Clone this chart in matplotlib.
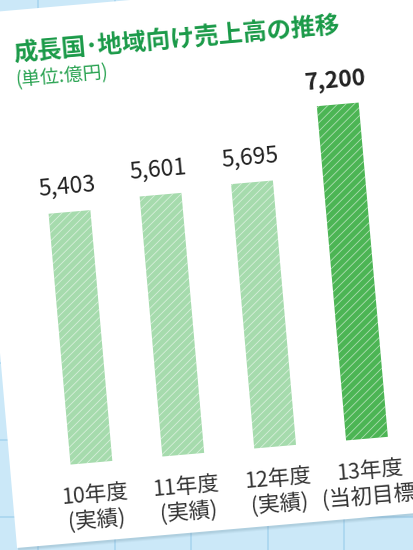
import numpy as np
import matplotlib
matplotlib.use("Agg")
import matplotlib.pyplot as plt
import matplotlib.transforms as mtransforms
from matplotlib.patches import Rectangle

plt.rcParams['font.family'] = ['Noto Sans CJK JP', 'DejaVu Sans']
plt.rcParams['hatch.color'] = (1, 1, 1, 0.55)
plt.rcParams['hatch.linewidth'] = 0.6

# sales to growth markets (100M yen)
years = ["10年度", "11年度", "12年度", "13年度"]
notes = ["(実績)", "(実績)", "(実績)", "(当初目標)"]
sales = [5403, 5601, 5695, 7200]
is_target = [False, False, False, True]

W, H = 413, 550
fig = plt.figure(figsize=(W/100, H/100), dpi=100)

# the whole card is tilted a few degrees about the page centre
rot = mtransforms.Affine2D().rotate_deg_around(206.5, 275, 5)

# blue grid paper behind the card
bg = fig.add_axes([0, 0, 1, 1])
bg.set_xlim(0, W); bg.set_ylim(0, H); bg.axis("off")
bg.add_patch(Rectangle((0, 0), W, H, color="#cbe8f8", zorder=0))
for gx in np.arange(38, W, 76.5):
    bg.axvline(gx, color="#a9d5ef", lw=1.2, zorder=1)
for gy in np.arange(33, H, 77):
    bg.axhline(gy, color="#a9d5ef", lw=1.2, zorder=1)

# card with a soft shadow
card_h = 536
for k, a in enumerate([0.08, 0.10, 0.14]):
    sh = Rectangle((-6 + 1, 19.6 - 4 + k), 520, card_h, transform=mtransforms.Affine2D() + rot,
                   color="#6f93a8", alpha=a, lw=0, zorder=2)
    fig.add_artist(sh)
card = Rectangle((-6, 19.6), 520, card_h, transform=mtransforms.Affine2D() + rot,
                 color="white", lw=0, zorder=3)
fig.add_artist(card)

fig.text(33.2, 512, "成長国･地域向け売上高の推移", transform=mtransforms.Affine2D() + rot,
         rotation=5, rotation_mode="anchor", ha="left", va="center",
         fontsize=17.5, fontweight="bold", color="#1a9a48", zorder=5)
fig.text(32.7, 485, "(単位:億円)", transform=mtransforms.Affine2D() + rot,
         rotation=5, rotation_mode="anchor", ha="left", va="center",
         fontsize=13.5, color="#2aa352", zorder=5)

ax = fig.add_axes([29.4/W, 98/H, 368.8/W, 372.8/H])
ax.set_xlim(-0.5, 3.5); ax.set_ylim(0, 8000); ax.axis("off")
ax.set_zorder(4); ax.patch.set_visible(False)

x = np.arange(len(sales))
colors = ["#4cb554" if t else "#a6dbad" for t in is_target]
bars = ax.bar(x, sales, width=0.455, color=colors, hatch="////")
for b in bars:
    b.set_transform(ax.transData + rot)
    b.set_clip_on(False)

lab_tr = mtransforms.offset_copy(ax.transData, fig=fig, y=25, units="dots") + rot
cat_tr = mtransforms.offset_copy(ax.transData, fig=fig, y=-45, units="dots") + rot
for i, (v, t) in enumerate(zip(sales, is_target)):
    ax.text(i, v, f"{v:,}", transform=lab_tr, rotation=5, rotation_mode="anchor",
            ha="center", va="center", fontsize=16.5, color="#222222",
            fontweight="bold" if t else "normal", clip_on=False)
    ax.text(i, 0, years[i] + "\n" + notes[i], transform=cat_tr, rotation=5,
            rotation_mode="anchor", ha="center", va="center", fontsize=15.5,
            color="#333333", linespacing=1.15, clip_on=False)

fig.savefig("out.png", dpi=100)
